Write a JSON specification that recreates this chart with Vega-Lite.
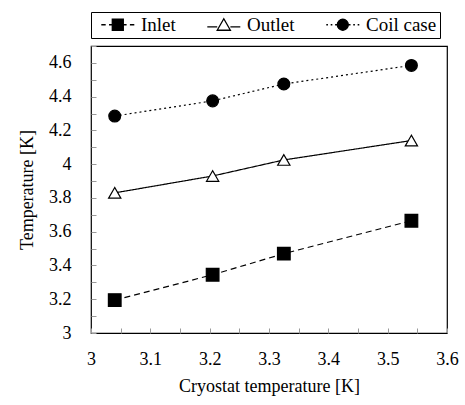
{
  "$schema": "https://vega.github.io/schema/vega-lite/v6.json",
  "width": 465,
  "height": 405,
  "autosize": {"type": "fit", "contains": "padding"},
  "padding": {"left": 18, "right": 6, "top": 11, "bottom": 10},
  "background": "white",
  "config": {
    "font": "Liberation Serif",
    "view": {"stroke": "black", "strokeWidth": 1.2},
    "axis": {
      "labelFont": "Liberation Serif",
      "titleFont": "Liberation Serif",
      "labelFontSize": 18,
      "titleFontSize": 18,
      "titleFontWeight": "normal",
      "labelColor": "black",
      "titleColor": "black",
      "grid": false,
      "domain": false,
      "tickColor": "#999999",
      "tickSize": -5
    },
    "legend": {
      "labelFont": "Liberation Serif",
      "labelFontSize": 19,
      "labelColor": "black"
    }
  },
  "resolve": {"scale": {"shape": "independent", "fill": "independent", "size": "independent", "stroke": "independent"}, "legend": {"shape": "independent", "fill": "independent", "stroke": "independent"}},
  "data": {
    "values": [
      {"series": "Inlet", "cryo": 3.04, "temp": 3.195},
      {"series": "Inlet", "cryo": 3.205, "temp": 3.345},
      {"series": "Inlet", "cryo": 3.325, "temp": 3.47},
      {"series": "Inlet", "cryo": 3.54, "temp": 3.665},
      {"series": "Outlet", "cryo": 3.04, "temp": 3.83},
      {"series": "Outlet", "cryo": 3.205, "temp": 3.93},
      {"series": "Outlet", "cryo": 3.325, "temp": 4.025},
      {"series": "Outlet", "cryo": 3.54, "temp": 4.14},
      {"series": "Coil case", "cryo": 3.04, "temp": 4.285},
      {"series": "Coil case", "cryo": 3.205, "temp": 4.375},
      {"series": "Coil case", "cryo": 3.325, "temp": 4.475},
      {"series": "Coil case", "cryo": 3.54, "temp": 4.585}
    ]
  },
  "encoding": {
    "x": {
      "field": "cryo",
      "type": "quantitative",
      "scale": {"domain": [3, 3.6], "nice": false, "zero": false},
      "axis": {
        "title": "Cryostat temperature [K]",
        "values": [3, 3.05, 3.1, 3.15, 3.2, 3.25, 3.3, 3.35, 3.4, 3.45, 3.5, 3.55, 3.6],
        "labelExpr": "abs(datum.value*10 - round(datum.value*10)) < 0.001 ? format(datum.value, '.1~f') : ''",
        "labelPadding": 22,
        "titlePadding": 9,
        "labelFlush": false
      }
    },
    "y": {
      "field": "temp",
      "type": "quantitative",
      "scale": {"domain": [3, 4.7], "nice": false, "zero": false},
      "axis": {
        "title": "Temperature [K]",
        "values": [3, 3.1, 3.2, 3.3, 3.4, 3.5, 3.6, 3.7, 3.8, 3.9, 4, 4.1, 4.2, 4.3, 4.4, 4.5, 4.6, 4.7],
        "labelExpr": "(round(datum.value*10) % 2 == 0 && datum.value < 4.65) ? format(datum.value, '.1~f') : ''",
        "labelPadding": 25,
        "titlePadding": 12
      }
    }
  },
  "layer": [
    {
      "mark": {"type": "line", "color": "black", "strokeWidth": 1.2},
      "encoding": {
        "detail": {"field": "series"},
        "strokeDash": {
          "field": "series",
          "type": "nominal",
          "scale": {"domain": ["Inlet", "Outlet", "Coil case"], "range": [[6, 4], [1, 0], [2, 3]]},
          "legend": null
        }
      }
    },
    {
      "mark": {"type": "point", "filled": false, "stroke": "black", "strokeWidth": 1.2, "opacity": 1},
      "encoding": {
        "shape": {
          "field": "series",
          "type": "nominal",
          "scale": {"domain": ["Inlet", "Outlet", "Coil case"], "range": ["square", "triangle-up", "circle"]},
          "legend": null
        },
        "fill": {
          "field": "series",
          "type": "nominal",
          "scale": {"domain": ["Inlet", "Outlet", "Coil case"], "range": ["black", "white", "black"]},
          "legend": null
        },
        "size": {
          "field": "series",
          "type": "nominal",
          "scale": {"domain": ["Inlet", "Outlet", "Coil case"], "range": [160, 140, 120]},
          "legend": null
        }
      }
    },
    {
      "transform": [{"filter": "datum.cryo < 0"}],
      "mark": {"type": "point", "filled": true, "strokeWidth": 1.3, "opacity": 1, "size": 121},
      "encoding": {
        "shape": {
          "field": "series",
          "type": "nominal",
          "scale": {"domain": ["Inlet", "Outlet", "Coil case"], "range": ["M-0.4,0H0.4M1,0H1.6M3.6,0H4.2M4.8,0H5.6M1.6,-1H3.6V1H1.6Z", "M-0.4,0.4H1.4M3.8,0.4H5.6M2.6,-1.1L3.8,1H1.4Z", "M-0.4,0H-0.1M0.4,0H0.7M1.2,0H1.5M3.7,0H4M4.5,0H4.8M5.3,0H5.6M1.6,0A1,1 0 1,1 3.6,0A1,1 0 1,1 1.6,0Z"]},
          "legend": {
            "title": null,
            "orient": "top",
            "direction": "horizontal",
            "strokeColor": "black",
            "padding": 3,
            "offset": 8,
            "columnPadding": 24,
            "labelOffset": 28,
            "symbolSize": 121,
            "symbolStrokeWidth": 1.3,
            "symbolOpacity": 1
          }
        },
        "fill": {
          "field": "series",
          "type": "nominal",
          "scale": {"domain": ["Inlet", "Outlet", "Coil case"], "range": ["black", "white", "black"]},
          "legend": {
            "title": null,
            "orient": "top",
            "direction": "horizontal",
            "strokeColor": "black",
            "padding": 3,
            "offset": 8,
            "columnPadding": 24,
            "labelOffset": 28,
            "symbolSize": 121,
            "symbolStrokeWidth": 1.3,
            "symbolOpacity": 1
          }
        },
        "stroke": {
          "field": "series",
          "type": "nominal",
          "scale": {"domain": ["Inlet", "Outlet", "Coil case"], "range": ["black", "black", "black"]},
          "legend": {
            "title": null,
            "orient": "top",
            "direction": "horizontal",
            "strokeColor": "black",
            "padding": 3,
            "offset": 8,
            "columnPadding": 24,
            "labelOffset": 28,
            "symbolSize": 121,
            "symbolStrokeWidth": 1.3,
            "symbolOpacity": 1
          }
        }
      }
    }
  ]
}
